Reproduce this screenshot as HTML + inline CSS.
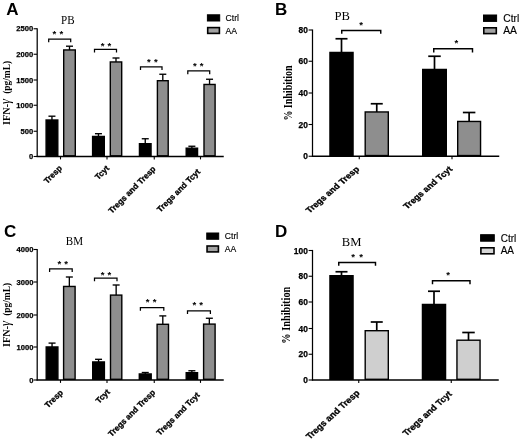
<!DOCTYPE html>
<html><head><meta charset="utf-8"><title>Figure</title>
<style>
html,body{margin:0;padding:0;background:#fff;}
body{width:520px;height:441px;overflow:hidden;font-family:"Liberation Sans",sans-serif;}
svg{display:block;will-change:transform;filter:blur(0.45px);}
</style></head><body>
<svg width="520" height="441" viewBox="0 0 520 441">
<rect width="520" height="441" fill="#fff"/>
<line x1="51.95" y1="116.2" x2="51.95" y2="120.3" stroke="#000" stroke-width="1.35"/>
<line x1="48.45" y1="116.2" x2="55.45" y2="116.2" stroke="#000" stroke-width="1.35"/>
<rect x="46.1" y="120.0" width="11.700000000000001" height="35.800000000000004" fill="#000" stroke="#000" stroke-width="1.4"/>
<line x1="69.5" y1="46.2" x2="69.5" y2="50.25" stroke="#000" stroke-width="1.35"/>
<line x1="66.0" y1="46.2" x2="73.0" y2="46.2" stroke="#000" stroke-width="1.35"/>
<rect x="63.7" y="49.95" width="11.6" height="105.85" fill="#8e8e8e" stroke="#000" stroke-width="1.4"/>
<line x1="98.45" y1="133.7" x2="98.45" y2="136.75" stroke="#000" stroke-width="1.35"/>
<line x1="94.95" y1="133.7" x2="101.95" y2="133.7" stroke="#000" stroke-width="1.35"/>
<rect x="92.60000000000001" y="136.45" width="11.699999999999994" height="19.35" fill="#000" stroke="#000" stroke-width="1.4"/>
<line x1="116.0" y1="58" x2="116.0" y2="62.25" stroke="#000" stroke-width="1.35"/>
<line x1="112.5" y1="58" x2="119.5" y2="58" stroke="#000" stroke-width="1.35"/>
<rect x="110.3" y="61.95" width="11.400000000000011" height="93.85" fill="#8e8e8e" stroke="#000" stroke-width="1.4"/>
<line x1="145.25" y1="138.75" x2="145.25" y2="144" stroke="#000" stroke-width="1.35"/>
<line x1="141.75" y1="138.75" x2="148.75" y2="138.75" stroke="#000" stroke-width="1.35"/>
<rect x="139.45" y="143.7" width="11.6" height="12.1" fill="#000" stroke="#000" stroke-width="1.4"/>
<line x1="162.8" y1="74.25" x2="162.8" y2="81" stroke="#000" stroke-width="1.35"/>
<line x1="159.3" y1="74.25" x2="166.3" y2="74.25" stroke="#000" stroke-width="1.35"/>
<rect x="157.39999999999998" y="80.7" width="10.800000000000017" height="75.1" fill="#8e8e8e" stroke="#000" stroke-width="1.4"/>
<line x1="191.875" y1="146.25" x2="191.875" y2="148.5" stroke="#000" stroke-width="1.35"/>
<line x1="188.375" y1="146.25" x2="195.375" y2="146.25" stroke="#000" stroke-width="1.35"/>
<rect x="186.2" y="148.2" width="11.35" height="7.6" fill="#000" stroke="#000" stroke-width="1.4"/>
<line x1="209.55" y1="79.25" x2="209.55" y2="84.75" stroke="#000" stroke-width="1.35"/>
<line x1="206.05" y1="79.25" x2="213.05" y2="79.25" stroke="#000" stroke-width="1.35"/>
<rect x="204.0" y="84.45" width="11.1" height="71.35" fill="#8e8e8e" stroke="#000" stroke-width="1.4"/>
<line x1="37.2" y1="28.15" x2="37.2" y2="157.1" stroke="#000" stroke-width="1.25"/>
<line x1="36.6" y1="156.5" x2="223.75" y2="156.5" stroke="#000" stroke-width="1.3"/>
<line x1="33.6" y1="28.75" x2="37" y2="28.75" stroke="#000" stroke-width="1.1"/>
<text transform="translate(33.199999999999996 31.486) scale(1 1)" font-family='"Liberation Sans", sans-serif' font-size="7.6" font-weight="bold" text-anchor="end" stroke="#000" stroke-width="0.25">2500</text>
<line x1="33.6" y1="54.25" x2="37" y2="54.25" stroke="#000" stroke-width="1.1"/>
<text transform="translate(33.199999999999996 56.986) scale(1 1)" font-family='"Liberation Sans", sans-serif' font-size="7.6" font-weight="bold" text-anchor="end" stroke="#000" stroke-width="0.25">2000</text>
<line x1="33.6" y1="80" x2="37" y2="80" stroke="#000" stroke-width="1.1"/>
<text transform="translate(33.199999999999996 82.736) scale(1 1)" font-family='"Liberation Sans", sans-serif' font-size="7.6" font-weight="bold" text-anchor="end" stroke="#000" stroke-width="0.25">1500</text>
<line x1="33.6" y1="105.25" x2="37" y2="105.25" stroke="#000" stroke-width="1.1"/>
<text transform="translate(33.199999999999996 107.986) scale(1 1)" font-family='"Liberation Sans", sans-serif' font-size="7.6" font-weight="bold" text-anchor="end" stroke="#000" stroke-width="0.25">1000</text>
<line x1="33.6" y1="131.25" x2="37" y2="131.25" stroke="#000" stroke-width="1.1"/>
<text transform="translate(33.199999999999996 133.986) scale(1 1)" font-family='"Liberation Sans", sans-serif' font-size="7.6" font-weight="bold" text-anchor="end" stroke="#000" stroke-width="0.25">500</text>
<line x1="33.6" y1="156.5" x2="37" y2="156.5" stroke="#000" stroke-width="1.1"/>
<text transform="translate(33.199999999999996 159.236) scale(1 1)" font-family='"Liberation Sans", sans-serif' font-size="7.6" font-weight="bold" text-anchor="end" stroke="#000" stroke-width="0.25">0</text>
<line x1="60.5" y1="156.5" x2="60.5" y2="159.4" stroke="#000" stroke-width="1.1"/>
<text transform="translate(62.6 168.8) scale(1 1) rotate(-45)" font-family='"Liberation Sans", sans-serif' font-size="8.2" font-weight="bold" text-anchor="end" stroke="#000" stroke-width="0.3">Tresp</text>
<line x1="107" y1="156.5" x2="107" y2="159.4" stroke="#000" stroke-width="1.1"/>
<text transform="translate(109.7 168.8) scale(1 1) rotate(-45)" font-family='"Liberation Sans", sans-serif' font-size="8.2" font-weight="bold" text-anchor="end" stroke="#000" stroke-width="0.3">Tcyt</text>
<line x1="154.25" y1="156.5" x2="154.25" y2="159.4" stroke="#000" stroke-width="1.1"/>
<text transform="translate(156.14999999999998 169.5) scale(1 1) rotate(-45)" font-family='"Liberation Sans", sans-serif' font-size="8.2" font-weight="bold" text-anchor="end" stroke="#000" stroke-width="0.3">Tregs and Tresp</text>
<line x1="200.5" y1="156.5" x2="200.5" y2="159.4" stroke="#000" stroke-width="1.1"/>
<text transform="translate(200.7 172.3) scale(1 1) rotate(-45)" font-family='"Liberation Sans", sans-serif' font-size="8.2" font-weight="bold" text-anchor="end" stroke="#000" stroke-width="0.3">Tregs and Tcyt</text>
<path d="M48.7 42.3 V39.1 H70.7 V42.3" fill="none" stroke="#000" stroke-width="1.25"/>
<text x="54.4" y="37.36" font-family='"Liberation Sans", sans-serif' font-size="9.6" font-weight="bold" text-anchor="middle" >*</text>
<text x="61.4" y="37.36" font-family='"Liberation Sans", sans-serif' font-size="9.6" font-weight="bold" text-anchor="middle" >*</text>
<path d="M94.5 52.5 V49.25 H116.5 V52.5" fill="none" stroke="#000" stroke-width="1.25"/>
<text x="102.5" y="48.86" font-family='"Liberation Sans", sans-serif' font-size="9.6" font-weight="bold" text-anchor="middle" >*</text>
<text x="109.25" y="48.86" font-family='"Liberation Sans", sans-serif' font-size="9.6" font-weight="bold" text-anchor="middle" >*</text>
<path d="M140.5 70 V66.75 H162 V70" fill="none" stroke="#000" stroke-width="1.25"/>
<text x="148.75" y="65.36" font-family='"Liberation Sans", sans-serif' font-size="9.6" font-weight="bold" text-anchor="middle" >*</text>
<text x="155.75" y="65.36" font-family='"Liberation Sans", sans-serif' font-size="9.6" font-weight="bold" text-anchor="middle" >*</text>
<path d="M187.8 74.25 V70.75 H209.7 V74.25" fill="none" stroke="#000" stroke-width="1.25"/>
<text x="194.8" y="69.06" font-family='"Liberation Sans", sans-serif' font-size="9.6" font-weight="bold" text-anchor="middle" >*</text>
<text x="201.5" y="69.06" font-family='"Liberation Sans", sans-serif' font-size="9.6" font-weight="bold" text-anchor="middle" >*</text>
<text transform="translate(10.3 124.9) scale(1.1 1) rotate(-90)" font-family='"Liberation Serif", serif' font-size="10.2" font-weight="bold" text-anchor="start">IFN-<tspan font-style="italic" font-weight="normal" font-size="12.5">γ</tspan><tspan dx="5.2" font-size="9.4">(pg/mL)</tspan></text>
<text transform="translate(67.8 24) scale(0.88 1)" font-family='"Liberation Serif", serif' font-size="12.6" text-anchor="middle">PB</text>
<text x="6.3" y="14.8" font-family='"Liberation Sans", sans-serif' font-size="17" font-weight="bold" text-anchor="start" >A</text>
<rect x="207.4" y="14.8" width="12.299999999999983" height="6.199999999999999" fill="#000" stroke="#000" stroke-width="1.0"/>
<rect x="207.70000000000002" y="27.6" width="11.699999999999983" height="5.8000000000000025" fill="#a2a2a2" stroke="#000" stroke-width="1.6"/>
<text transform="translate(225.5 21.0) scale(0.9 1)" font-family='"Liberation Sans", sans-serif' font-size="9.6" stroke="#000" stroke-width="0.15">Ctrl</text>
<text transform="translate(225.5 33.8) scale(0.9 1)" font-family='"Liberation Sans", sans-serif' font-size="9.6" stroke="#000" stroke-width="0.15">AA</text>
<line x1="341.5" y1="38.75" x2="341.5" y2="52.75" stroke="#000" stroke-width="1.7"/>
<line x1="335.5" y1="38.75" x2="347.5" y2="38.75" stroke="#000" stroke-width="1.7"/>
<rect x="329.95" y="52.45" width="23.1" height="103.1" fill="#000" stroke="#000" stroke-width="1.4"/>
<line x1="376.75" y1="103.75" x2="376.75" y2="112.25" stroke="#000" stroke-width="1.7"/>
<line x1="370.75" y1="103.75" x2="382.75" y2="103.75" stroke="#000" stroke-width="1.7"/>
<rect x="365.2" y="111.95" width="23.1" height="43.6" fill="#8e8e8e" stroke="#000" stroke-width="1.4"/>
<line x1="434.5" y1="56.25" x2="434.5" y2="69.75" stroke="#000" stroke-width="1.7"/>
<line x1="428.25" y1="56.25" x2="440.75" y2="56.25" stroke="#000" stroke-width="1.7"/>
<rect x="422.7" y="69.45" width="23.6" height="86.1" fill="#000" stroke="#000" stroke-width="1.4"/>
<line x1="469.125" y1="112.5" x2="469.125" y2="121.75" stroke="#000" stroke-width="1.7"/>
<line x1="462.875" y1="112.5" x2="475.375" y2="112.5" stroke="#000" stroke-width="1.7"/>
<rect x="457.7" y="121.45" width="22.85" height="34.1" fill="#8e8e8e" stroke="#000" stroke-width="1.4"/>
<line x1="312.5" y1="29.4" x2="312.5" y2="156.85" stroke="#000" stroke-width="1.25"/>
<line x1="311.9" y1="156.25" x2="499.25" y2="156.25" stroke="#000" stroke-width="1.3"/>
<line x1="308.6" y1="30" x2="312" y2="30" stroke="#000" stroke-width="1.1"/>
<text transform="translate(307.8 33.024) scale(1.0 1)" font-family='"Liberation Sans", sans-serif' font-size="8.4" font-weight="bold" text-anchor="end" stroke="#000" stroke-width="0.25">80</text>
<line x1="308.6" y1="61.25" x2="312" y2="61.25" stroke="#000" stroke-width="1.1"/>
<text transform="translate(307.8 64.274) scale(1.0 1)" font-family='"Liberation Sans", sans-serif' font-size="8.4" font-weight="bold" text-anchor="end" stroke="#000" stroke-width="0.25">60</text>
<line x1="308.6" y1="93" x2="312" y2="93" stroke="#000" stroke-width="1.1"/>
<text transform="translate(307.8 96.024) scale(1.0 1)" font-family='"Liberation Sans", sans-serif' font-size="8.4" font-weight="bold" text-anchor="end" stroke="#000" stroke-width="0.25">40</text>
<line x1="308.6" y1="124.5" x2="312" y2="124.5" stroke="#000" stroke-width="1.1"/>
<text transform="translate(307.8 127.524) scale(1.0 1)" font-family='"Liberation Sans", sans-serif' font-size="8.4" font-weight="bold" text-anchor="end" stroke="#000" stroke-width="0.25">20</text>
<line x1="308.6" y1="156.25" x2="312" y2="156.25" stroke="#000" stroke-width="1.1"/>
<text transform="translate(307.8 159.274) scale(1.0 1)" font-family='"Liberation Sans", sans-serif' font-size="8.4" font-weight="bold" text-anchor="end" stroke="#000" stroke-width="0.25">0</text>
<line x1="359.25" y1="156.25" x2="359.25" y2="159.15" stroke="#000" stroke-width="1.1"/>
<text transform="translate(359.95 169.65) scale(1.15 1) rotate(-45)" font-family='"Liberation Sans", sans-serif' font-size="8.1" font-weight="bold" text-anchor="end" stroke="#000" stroke-width="0.3">Tregs and Tresp</text>
<line x1="452" y1="156.25" x2="452" y2="159.15" stroke="#000" stroke-width="1.1"/>
<text transform="translate(452.9 169.65) scale(1.15 1) rotate(-45)" font-family='"Liberation Sans", sans-serif' font-size="8.1" font-weight="bold" text-anchor="end" stroke="#000" stroke-width="0.3">Tregs and Tcyt</text>
<path d="M341.75 33.75 V30.5 H380.75 V33.75" fill="none" stroke="#000" stroke-width="1.45"/>
<text x="361.1" y="27.76" font-family='"Liberation Sans", sans-serif' font-size="9.6" font-weight="bold" text-anchor="middle" >*</text>
<path d="M433.75 52.5 V48.75 H472.5 V52.5" fill="none" stroke="#000" stroke-width="1.45"/>
<text x="456.25" y="46.36" font-family='"Liberation Sans", sans-serif' font-size="9.6" font-weight="bold" text-anchor="middle" >*</text>
<text transform="translate(292 93) scale(1.18 1) rotate(-90)" font-family='"Liberation Serif", serif' font-size="10" font-weight="bold" text-anchor="middle">% Inhibition</text>
<text transform="translate(342.2 20) scale(1.1 1)" font-family='"Liberation Serif", serif' font-size="11.5" text-anchor="middle">PB</text>
<text x="275" y="14.9" font-family='"Liberation Sans", sans-serif' font-size="17" font-weight="bold" text-anchor="start" >B</text>
<rect x="483.5" y="15.0" width="13.100000000000023" height="6.399999999999999" fill="#000" stroke="#000" stroke-width="1.0"/>
<rect x="483.8" y="27.8" width="12.500000000000023" height="5.799999999999999" fill="#a2a2a2" stroke="#000" stroke-width="1.6"/>
<text transform="translate(503.2 21.7) scale(1.02 1)" font-family='"Liberation Sans", sans-serif' font-size="10.1" stroke="#000" stroke-width="0.15">Ctrl</text>
<text transform="translate(503.2 34.1) scale(1.02 1)" font-family='"Liberation Sans", sans-serif' font-size="10.1" stroke="#000" stroke-width="0.15">AA</text>
<line x1="52.05" y1="343.1" x2="52.05" y2="347.25" stroke="#000" stroke-width="1.35"/>
<line x1="48.55" y1="343.1" x2="55.55" y2="343.1" stroke="#000" stroke-width="1.35"/>
<rect x="46.2" y="346.95" width="11.700000000000001" height="32.35" fill="#000" stroke="#000" stroke-width="1.4"/>
<line x1="69.35" y1="277" x2="69.35" y2="286.75" stroke="#000" stroke-width="1.35"/>
<line x1="65.85" y1="277" x2="72.85" y2="277" stroke="#000" stroke-width="1.35"/>
<rect x="63.6" y="286.45" width="11.499999999999998" height="92.85" fill="#8e8e8e" stroke="#000" stroke-width="1.4"/>
<line x1="98.55" y1="359.3" x2="98.55" y2="362.25" stroke="#000" stroke-width="1.35"/>
<line x1="95.05" y1="359.3" x2="102.05" y2="359.3" stroke="#000" stroke-width="1.35"/>
<rect x="92.7" y="361.95" width="11.699999999999994" height="17.35" fill="#000" stroke="#000" stroke-width="1.4"/>
<line x1="116.15" y1="285" x2="116.15" y2="295.4" stroke="#000" stroke-width="1.35"/>
<line x1="112.65" y1="285" x2="119.65" y2="285" stroke="#000" stroke-width="1.35"/>
<rect x="110.5" y="295.09999999999997" width="11.300000000000002" height="84.20000000000002" fill="#8e8e8e" stroke="#000" stroke-width="1.4"/>
<line x1="145.25" y1="372.5" x2="145.25" y2="374.25" stroke="#000" stroke-width="1.35"/>
<line x1="141.75" y1="372.5" x2="148.75" y2="372.5" stroke="#000" stroke-width="1.35"/>
<rect x="139.29999999999998" y="373.95" width="11.900000000000011" height="5.35" fill="#000" stroke="#000" stroke-width="1.4"/>
<line x1="162.8" y1="315.9" x2="162.8" y2="324.6" stroke="#000" stroke-width="1.35"/>
<line x1="159.3" y1="315.9" x2="166.3" y2="315.9" stroke="#000" stroke-width="1.35"/>
<rect x="157.1" y="324.3" width="11.399999999999983" height="54.99999999999998" fill="#8e8e8e" stroke="#000" stroke-width="1.4"/>
<line x1="191.875" y1="370.75" x2="191.875" y2="373" stroke="#000" stroke-width="1.35"/>
<line x1="188.375" y1="370.75" x2="195.375" y2="370.75" stroke="#000" stroke-width="1.35"/>
<rect x="186.2" y="372.7" width="11.35" height="6.6" fill="#000" stroke="#000" stroke-width="1.4"/>
<line x1="209.35000000000002" y1="318.25" x2="209.35000000000002" y2="324.4" stroke="#000" stroke-width="1.35"/>
<line x1="205.85000000000002" y1="318.25" x2="212.85000000000002" y2="318.25" stroke="#000" stroke-width="1.35"/>
<rect x="203.6" y="324.09999999999997" width="11.500000000000005" height="55.200000000000024" fill="#8e8e8e" stroke="#000" stroke-width="1.4"/>
<line x1="37.2" y1="248.9" x2="37.2" y2="380.6" stroke="#000" stroke-width="1.25"/>
<line x1="36.6" y1="380" x2="223.75" y2="380" stroke="#000" stroke-width="1.3"/>
<line x1="33.6" y1="249.5" x2="37" y2="249.5" stroke="#000" stroke-width="1.1"/>
<text transform="translate(33.4 252.236) scale(1 1)" font-family='"Liberation Sans", sans-serif' font-size="7.6" font-weight="bold" text-anchor="end" stroke="#000" stroke-width="0.25">4000</text>
<line x1="33.6" y1="282" x2="37" y2="282" stroke="#000" stroke-width="1.1"/>
<text transform="translate(33.4 284.736) scale(1 1)" font-family='"Liberation Sans", sans-serif' font-size="7.6" font-weight="bold" text-anchor="end" stroke="#000" stroke-width="0.25">3000</text>
<line x1="33.6" y1="315" x2="37" y2="315" stroke="#000" stroke-width="1.1"/>
<text transform="translate(33.4 317.736) scale(1 1)" font-family='"Liberation Sans", sans-serif' font-size="7.6" font-weight="bold" text-anchor="end" stroke="#000" stroke-width="0.25">2000</text>
<line x1="33.6" y1="347" x2="37" y2="347" stroke="#000" stroke-width="1.1"/>
<text transform="translate(33.4 349.736) scale(1 1)" font-family='"Liberation Sans", sans-serif' font-size="7.6" font-weight="bold" text-anchor="end" stroke="#000" stroke-width="0.25">1000</text>
<line x1="33.6" y1="380" x2="37" y2="380" stroke="#000" stroke-width="1.1"/>
<text transform="translate(33.4 382.736) scale(1 1)" font-family='"Liberation Sans", sans-serif' font-size="7.6" font-weight="bold" text-anchor="end" stroke="#000" stroke-width="0.25">0</text>
<line x1="60.5" y1="380" x2="60.5" y2="382.9" stroke="#000" stroke-width="1.1"/>
<text transform="translate(63.5 393.1) scale(1 1) rotate(-45)" font-family='"Liberation Sans", sans-serif' font-size="8.2" font-weight="bold" text-anchor="end" stroke="#000" stroke-width="0.3">Tresp</text>
<line x1="107" y1="380" x2="107" y2="382.9" stroke="#000" stroke-width="1.1"/>
<text transform="translate(110.4 392.5) scale(1 1) rotate(-45)" font-family='"Liberation Sans", sans-serif' font-size="8.2" font-weight="bold" text-anchor="end" stroke="#000" stroke-width="0.3">Tcyt</text>
<line x1="154.25" y1="380" x2="154.25" y2="382.9" stroke="#000" stroke-width="1.1"/>
<text transform="translate(155.85 392.9) scale(1 1) rotate(-45)" font-family='"Liberation Sans", sans-serif' font-size="8.2" font-weight="bold" text-anchor="end" stroke="#000" stroke-width="0.3">Tregs and Tresp</text>
<line x1="200.5" y1="380" x2="200.5" y2="382.9" stroke="#000" stroke-width="1.1"/>
<text transform="translate(200.29999999999998 395.6) scale(1 1) rotate(-45)" font-family='"Liberation Sans", sans-serif' font-size="8.2" font-weight="bold" text-anchor="end" stroke="#000" stroke-width="0.3">Tregs and Tcyt</text>
<path d="M49.6 272 V268.75 H72.2 V272" fill="none" stroke="#000" stroke-width="1.25"/>
<text x="59.3" y="266.96" font-family='"Liberation Sans", sans-serif' font-size="9.6" font-weight="bold" text-anchor="middle" >*</text>
<text x="66" y="266.96" font-family='"Liberation Sans", sans-serif' font-size="9.6" font-weight="bold" text-anchor="middle" >*</text>
<path d="M94.5 281.25 V278 H117 V281.25" fill="none" stroke="#000" stroke-width="1.25"/>
<text x="102.5" y="277.86" font-family='"Liberation Sans", sans-serif' font-size="9.6" font-weight="bold" text-anchor="middle" >*</text>
<text x="109.25" y="277.86" font-family='"Liberation Sans", sans-serif' font-size="9.6" font-weight="bold" text-anchor="middle" >*</text>
<path d="M140.4 310.85 V307.6 H163.8 V310.85" fill="none" stroke="#000" stroke-width="1.25"/>
<text x="147.6" y="305.36" font-family='"Liberation Sans", sans-serif' font-size="9.6" font-weight="bold" text-anchor="middle" >*</text>
<text x="154.6" y="305.36" font-family='"Liberation Sans", sans-serif' font-size="9.6" font-weight="bold" text-anchor="middle" >*</text>
<path d="M187.5 313.9 V310.85 H210.4 V313.9" fill="none" stroke="#000" stroke-width="1.25"/>
<text x="194.3" y="307.76" font-family='"Liberation Sans", sans-serif' font-size="9.6" font-weight="bold" text-anchor="middle" >*</text>
<text x="201" y="307.76" font-family='"Liberation Sans", sans-serif' font-size="9.6" font-weight="bold" text-anchor="middle" >*</text>
<text transform="translate(10.3 346.9) scale(1.1 1) rotate(-90)" font-family='"Liberation Serif", serif' font-size="10.2" font-weight="bold" text-anchor="start">IFN-<tspan font-style="italic" font-weight="normal" font-size="12.5">γ</tspan><tspan dx="5.2" font-size="9.4">(pg/mL)</tspan></text>
<text transform="translate(74.5 244.6) scale(0.88 1)" font-family='"Liberation Serif", serif' font-size="12.6" text-anchor="middle">BM</text>
<text x="4" y="236.7" font-family='"Liberation Sans", sans-serif' font-size="17" font-weight="bold" text-anchor="start" >C</text>
<rect x="206.75" y="233.0" width="11.949999999999989" height="6.25" fill="#000" stroke="#000" stroke-width="1.0"/>
<rect x="207.05" y="246.0" width="11.349999999999989" height="5.9" fill="#a2a2a2" stroke="#000" stroke-width="1.6"/>
<text transform="translate(224.8 239.3) scale(0.9 1)" font-family='"Liberation Sans", sans-serif' font-size="9.6" stroke="#000" stroke-width="0.15">Ctrl</text>
<text transform="translate(224.8 252.0) scale(0.9 1)" font-family='"Liberation Sans", sans-serif' font-size="9.6" stroke="#000" stroke-width="0.15">AA</text>
<line x1="341.5" y1="271.75" x2="341.5" y2="276" stroke="#000" stroke-width="1.7"/>
<line x1="335.5" y1="271.75" x2="347.5" y2="271.75" stroke="#000" stroke-width="1.7"/>
<rect x="329.95" y="275.7" width="23.1" height="103.6" fill="#000" stroke="#000" stroke-width="1.4"/>
<line x1="376.75" y1="322" x2="376.75" y2="331" stroke="#000" stroke-width="1.7"/>
<line x1="370.75" y1="322" x2="382.75" y2="322" stroke="#000" stroke-width="1.7"/>
<rect x="365.2" y="330.7" width="23.1" height="48.6" fill="#cfcfcf" stroke="#000" stroke-width="1.4"/>
<line x1="434.0" y1="291.25" x2="434.0" y2="304.75" stroke="#000" stroke-width="1.7"/>
<line x1="428.0" y1="291.25" x2="440.0" y2="291.25" stroke="#000" stroke-width="1.7"/>
<rect x="422.45" y="304.45" width="23.1" height="74.85" fill="#000" stroke="#000" stroke-width="1.4"/>
<line x1="468.5" y1="332.5" x2="468.5" y2="340.5" stroke="#000" stroke-width="1.7"/>
<line x1="462.25" y1="332.5" x2="474.75" y2="332.5" stroke="#000" stroke-width="1.7"/>
<rect x="456.95" y="340.2" width="23.1" height="39.1" fill="#cfcfcf" stroke="#000" stroke-width="1.4"/>
<line x1="312.5" y1="249.9" x2="312.5" y2="380.6" stroke="#000" stroke-width="1.25"/>
<line x1="311.9" y1="380" x2="498.75" y2="380" stroke="#000" stroke-width="1.3"/>
<line x1="308.6" y1="250.5" x2="312" y2="250.5" stroke="#000" stroke-width="1.1"/>
<text transform="translate(307.8 253.524) scale(1.0 1)" font-family='"Liberation Sans", sans-serif' font-size="8.4" font-weight="bold" text-anchor="end" stroke="#000" stroke-width="0.25">100</text>
<line x1="308.6" y1="276.25" x2="312" y2="276.25" stroke="#000" stroke-width="1.1"/>
<text transform="translate(307.8 279.274) scale(1.0 1)" font-family='"Liberation Sans", sans-serif' font-size="8.4" font-weight="bold" text-anchor="end" stroke="#000" stroke-width="0.25">80</text>
<line x1="308.6" y1="302" x2="312" y2="302" stroke="#000" stroke-width="1.1"/>
<text transform="translate(307.8 305.024) scale(1.0 1)" font-family='"Liberation Sans", sans-serif' font-size="8.4" font-weight="bold" text-anchor="end" stroke="#000" stroke-width="0.25">60</text>
<line x1="308.6" y1="328.5" x2="312" y2="328.5" stroke="#000" stroke-width="1.1"/>
<text transform="translate(307.8 331.524) scale(1.0 1)" font-family='"Liberation Sans", sans-serif' font-size="8.4" font-weight="bold" text-anchor="end" stroke="#000" stroke-width="0.25">40</text>
<line x1="308.6" y1="354.25" x2="312" y2="354.25" stroke="#000" stroke-width="1.1"/>
<text transform="translate(307.8 357.274) scale(1.0 1)" font-family='"Liberation Sans", sans-serif' font-size="8.4" font-weight="bold" text-anchor="end" stroke="#000" stroke-width="0.25">20</text>
<line x1="308.6" y1="380" x2="312" y2="380" stroke="#000" stroke-width="1.1"/>
<text transform="translate(307.8 383.024) scale(1.0 1)" font-family='"Liberation Sans", sans-serif' font-size="8.4" font-weight="bold" text-anchor="end" stroke="#000" stroke-width="0.25">0</text>
<line x1="358.75" y1="380" x2="358.75" y2="382.9" stroke="#000" stroke-width="1.1"/>
<text transform="translate(360.15 393.5) scale(1.09 1) rotate(-45)" font-family='"Liberation Sans", sans-serif' font-size="8.55" font-weight="bold" text-anchor="end" stroke="#000" stroke-width="0.3">Tregs and Tresp</text>
<line x1="451.25" y1="380" x2="451.25" y2="382.9" stroke="#000" stroke-width="1.1"/>
<text transform="translate(452.45 394.4) scale(1.09 1) rotate(-45)" font-family='"Liberation Sans", sans-serif' font-size="8.55" font-weight="bold" text-anchor="end" stroke="#000" stroke-width="0.3">Tregs and Tcyt</text>
<path d="M338.75 265.75 V262.5 H375.5 V265.75" fill="none" stroke="#000" stroke-width="1.45"/>
<text x="353.2" y="259.76" font-family='"Liberation Sans", sans-serif' font-size="9.6" font-weight="bold" text-anchor="middle" >*</text>
<text x="361.1" y="259.76" font-family='"Liberation Sans", sans-serif' font-size="9.6" font-weight="bold" text-anchor="middle" >*</text>
<path d="M432.5 284.25 V280.75 H470 V284.25" fill="none" stroke="#000" stroke-width="1.45"/>
<text x="448" y="277.86" font-family='"Liberation Sans", sans-serif' font-size="9.6" font-weight="bold" text-anchor="middle" >*</text>
<text transform="translate(290.1 315.2) scale(1.3 1) rotate(-90)" font-family='"Liberation Serif", serif' font-size="10.3" font-weight="bold" text-anchor="middle">% Inhibition</text>
<text transform="translate(351.6 246.25) scale(1.1 1)" font-family='"Liberation Serif", serif' font-size="11.5" text-anchor="middle">BM</text>
<text x="275" y="236.8" font-family='"Liberation Sans", sans-serif' font-size="17" font-weight="bold" text-anchor="start" >D</text>
<rect x="480.6" y="234.7" width="13.699999999999989" height="6.5" fill="#000" stroke="#000" stroke-width="1.0"/>
<rect x="480.90000000000003" y="247.8" width="13.099999999999989" height="5.999999999999995" fill="#d6d6d6" stroke="#000" stroke-width="1.6"/>
<text transform="translate(500.7 241.5) scale(0.99 1)" font-family='"Liberation Sans", sans-serif' font-size="10.1" stroke="#000" stroke-width="0.15">Ctrl</text>
<text transform="translate(500.7 254.0) scale(0.99 1)" font-family='"Liberation Sans", sans-serif' font-size="10.1" stroke="#000" stroke-width="0.15">AA</text>
</svg>
</body></html>
